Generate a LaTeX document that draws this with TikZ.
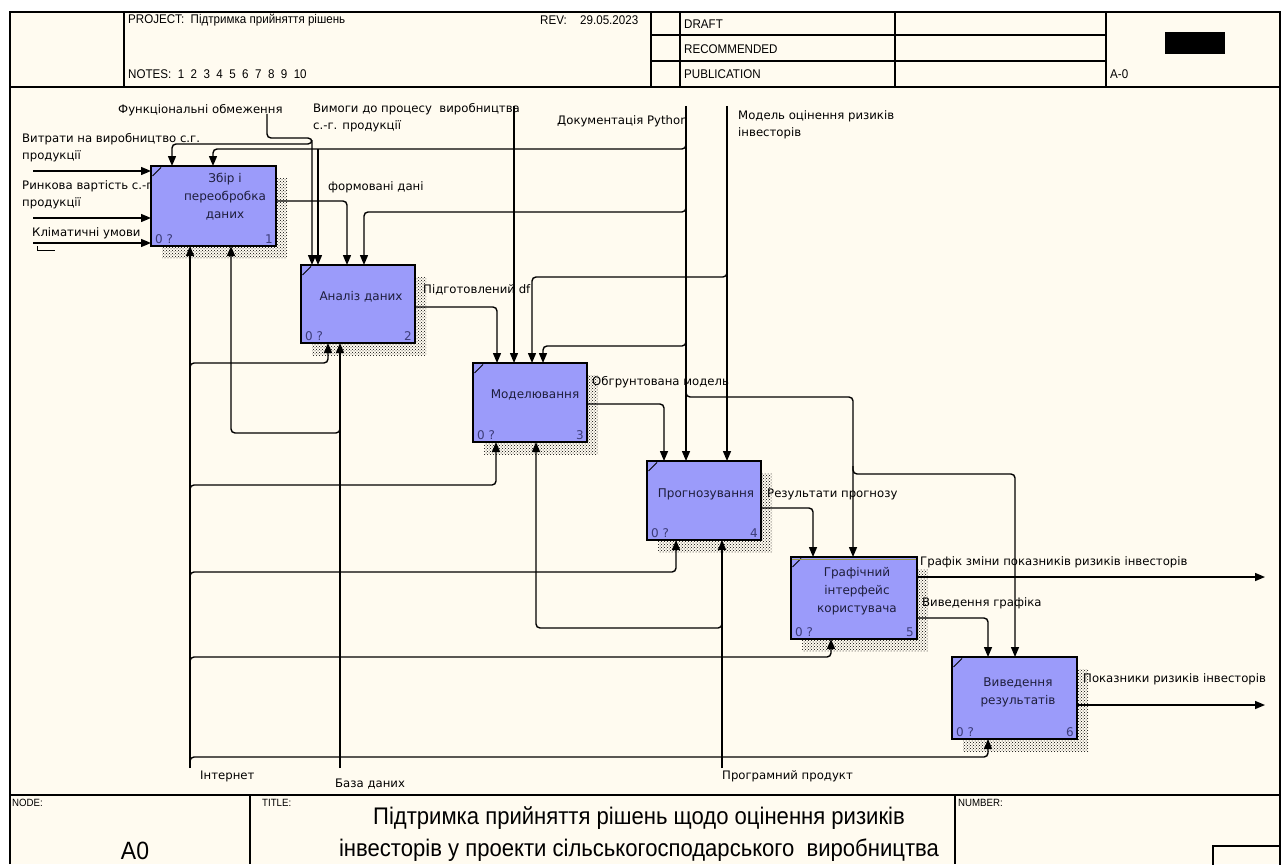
\documentclass[tikz,border=0pt]{standalone}
\usepackage{fontspec}
\setmainfont{DejaVu Sans}
\newfontfamily\hdrfont[FakeStretch=0.92]{Liberation Sans}
\newfontfamily\lblfont{DejaVu Sans}
\usetikzlibrary{arrows.meta,patterns,calc}
\definecolor{paper}{RGB}{255,251,240}
\definecolor{boxfill}{RGB}{155,155,250}
\definecolor{cornertxt}{RGB}{60,60,120}
\definecolor{boxtxt}{RGB}{30,30,60}
\definecolor{olivel}{RGB}{150,150,70}
\newcommand\idefbox[7]{%
  \path[pattern=crosshatch dots, pattern color=black] (#2+11,#3+12) rectangle (#4+11,#5+12);
  \node[fbox, minimum width=#4-#2, minimum height=#5-#3] (#1) at ({(#2+#4)/2},{(#3+#5)/2}) {};
  \draw[line width=0.9pt] ($(#1.north west)+(1.5,10)$) -- ($(#1.north west)+(10,1.5)$);
  \node[corner, anchor=south west] (#1z) at ($(#1.south west)+(4,-2)$) {0 ?};
  \node[corner, anchor=south east] (#1n) at ($(#1.south east)+(-3,-2)$) {#7};
  \node[btxt] (#1t) at #6;
}
\begin{document}
\begin{tikzpicture}[x=1pt,y=-1pt,
  conn/.style={line width=1.4pt, rounded corners=4pt},
  arr/.style={conn, -{Triangle[width=8pt,length=10pt]}},
  fbox/.style={draw=black, line width=1.6pt, fill=boxfill, rectangle, inner sep=0pt, outer sep=0pt},
  lbl/.style={font=\lblfont\fontsize{11.7}{17.5}\selectfont, inner sep=0pt, anchor=west, align=left},
  btxt/.style={font=\lblfont\fontsize{12}{18}\selectfont, inner sep=0pt, align=center, text=boxtxt},
  corner/.style={font=\lblfont\fontsize{12}{13}\selectfont, inner sep=0pt, text=cornertxt},
  hdr/.style={font=\hdrfont\fontsize{12.6}{14}\selectfont, inner sep=0pt, anchor=west},
  small/.style={font=\hdrfont\fontsize{10.5}{12}\selectfont, inner sep=0pt, anchor=west},
  frame/.style={line width=1.5pt}
]
\useasboundingbox (0,0) rectangle (1281,864);
\fill[white] (0,0) rectangle (1281,864);
\fill[paper] (10,12) rectangle (1280,864);
% ---------- header ----------
\draw[frame] (10,864) -- (10,12) -- (1280,12) -- (1280,864);
\draw[frame] (10,87) -- (1280,87);
\draw[frame] (124,12) -- (124,87);
\draw[frame] (651,12) -- (651,87);
\draw[frame] (680,12) -- (680,87);
\draw[frame] (895,12) -- (895,87);
\draw[frame] (1106,12) -- (1106,87);
\draw[frame] (651,35) -- (1106,35);
\draw[frame] (651,61) -- (1106,61);
\fill[black] (1165,32) rectangle (1225,54);
\node[hdr] (hProj) at (128,20) {PROJECT:\ \ Підтримка прийняття рішень};
\node[hdr] (hRev) at (540,20) {REV:};
\node[hdr] (hDate) at (580,20) {29.05.2023};
\node[hdr] (hNotes) at (128,74) {NOTES:\ \ 1\ \ 2\ \ 3\ \ 4\ \ 5\ \ 6\ \ 7\ \ 8\ \ 9\ \ 10};
\node[hdr] (hDraft) at (684,24) {DRAFT};
\node[hdr] (hRec) at (684,49) {RECOMMENDED};
\node[hdr] (hPub) at (684,74) {PUBLICATION};
\node[hdr] (hA) at (1110,74) {A-0};
% ---------- footer ----------
\draw[frame] (10,795) -- (1280,795);
\draw[frame] (250,795) -- (250,864);
\draw[frame] (955,795) -- (955,864);
\draw[frame] (1213,846) rectangle (1280,866);
\node[small] (fNode) at (12,803) {NODE:};
\node[small] (fTitle) at (262,803) {TITLE:};
\node[small] (fNum) at (958,803) {NUMBER:};
\node[font=\hdrfont\fontsize{25}{26}\selectfont, inner sep=0pt] (fA0) at (135,851) {A0};
\node[font=\hdrfont\fontsize{24}{32}\selectfont, inner sep=0pt, align=center] (fT) at (639,834)
  {Підтримка прийняття рішень щодо оцінення ризиків\\інвесторів у проекти сільськогосподарського\ \ виробництва};
% ---------- input label partly hidden by box 1 ----------
\node[lbl, anchor=north west] (lB) at (22,180) {Ринкова вартість с.-г.\\продукції};
% ---------- boxes ----------
\idefbox{b1}{151}{166}{276}{246}{(225,197) {Збір і\\переобробка\\даних}}{1}
\idefbox{b2}{301}{265}{415}{343}{(361,297) {Аналіз даних}}{2}
\idefbox{b3}{473}{363}{587}{442}{(535,395) {Моделювання}}{3}
\idefbox{b4}{647}{461}{761}{540}{(706,494) {Прогнозування}}{4}
\idefbox{b5}{791}{557}{917}{639}{(857,591) {Графічний\\інтерфейс\\користувача}}{5}
\idefbox{b6}{952}{657}{1077}{739}{(1018,692) {Виведення\\результатів}}{6}
\draw[olivel, line width=1pt] (792,559.5) -- (916,559.5);
% ---------- labels ----------
\node[lbl] (lF) at (118,110) {Функціональні обмеження};
\node[lbl, anchor=north west] (lV) at (313,103) {Вимоги до процесу\ \ виробництва\\с.-г. продукції};
\node[lbl] (lD) at (557,121) {Документація Python};
\node[lbl, anchor=north west] (lM) at (738,110) {Модель оцінення ризиків\\інвесторів};
\node[lbl, anchor=north west] (lA) at (22,133) {Витрати на виробництво с.г.\\продукції};
\node[lbl] (lC) at (32,233) {Кліматичні умови};
\node[lbl] (lFd) at (328,187) {формовані дані};
\node[lbl] (lPdf) at (423,290) {Підготовлений df};
\node[lbl] (lObg) at (592,382) {Обгрунтована модель};
\node[lbl] (lRes) at (767,494) {Результати прогнозу};
\node[lbl] (lGr) at (920,562) {Графік зміни показників ризиків інвесторів};
\node[lbl] (lVyv) at (922,603) {Виведення графіка};
\node[lbl] (lPok) at (1083,679) {Показники ризиків інвесторів};
\node[lbl] (lInt) at (200,776) {Інтернет};
\node[lbl] (lBD) at (335,784) {База даних};
\node[lbl] (lPP) at (722,776) {Програмний продукт};
% ---------- inputs ----------
\coordinate (iA) at (33,171);
\coordinate (iB) at (33,218);
\coordinate (iC) at (33,243);
\draw[arr] (iA) -- (iA -| b1.west);
\draw[arr] (iB) -- (iB -| b1.west);
\draw[arr] (iC) -- (iC -| b1.west);
\draw[line width=1pt] (37,246) -- (37,250) -- (55,250);
% ---------- controls ----------
\coordinate (cF) at (267,114);
\draw[arr] (cF) |- (312,138) -- (312,0 |- b2.north);
\draw[arr] (312,140) -- (312,144) -| (172,0 |- b1.north);
\coordinate (cV) at (514,106);
\draw[arr] (cV) -- (cV |- b3.north);
\coordinate (cD) at (686,106);
\draw[arr] (cD) -- (cD |- b4.north);
\draw[arr] (686,141) |- (213,149) -- (213,0 |- b1.north);
\draw[arr] (318,149) -- (318,0 |- b2.north);
\draw[arr] (686,204) |- (364,212) -- (364,0 |- b2.north);
\draw[arr] (686,338) |- (543,346) -- (543,0 |- b3.north);
\draw[arr] (686,389) |- (853,397) -- (853,0 |- b5.north);
\draw[arr] (853,466) |- (1015,474) -- (1015,0 |- b6.north);
\coordinate (cM) at (727,106);
\draw[arr] (cM) -- (cM |- b4.north);
\draw[arr] (727,269) |- (532,277) -- (532,0 |- b3.north);
% ---------- outputs ----------
\draw[arr] (b1.east |- 0,201) -| (347,0 |- b2.north);
\draw[arr] (b2.east |- 0,307) -| (497,0 |- b3.north);
\draw[arr] (b3.east |- 0,404) -| (664,0 |- b4.north);
\draw[arr] (b4.east |- 0,508) -| (813,0 |- b5.north);
\draw[arr] (b5.east |- 0,618) -| (988,0 |- b6.north);
\coordinate (oG) at (1265,577);
\coordinate (oP) at (1265,705);
\draw[arr] (b5.east |- oG) -- (oG);
\draw[arr] (b6.east |- oP) -- (oP);
% ---------- mechanisms ----------
\coordinate (mI) at (190,768);
\draw[arr] (mI) -- (mI |- b1.south);
\draw[arr] (190,371) |- (328,363) -- (328,0 |- b2.south);
\draw[arr] (190,493) |- (496,485) -- (496,0 |- b3.south);
\draw[arr] (190,580) |- (676,572) -- (676,0 |- b4.south);
\draw[arr] (190,665) |- (831,657) -- (831,0 |- b5.south);
\draw[arr] (190,765) |- (988,757) -- (988,0 |- b6.south);
\coordinate (mB) at (340,768);
\draw[arr] (mB) -- (mB |- b2.south);
\draw[arr] (340,425) |- (231,433) -- (231,0 |- b1.south);
\coordinate (mP) at (722,768);
\draw[arr] (mP) -- (mP |- b4.south);
\draw[arr] (722,620) |- (536,628) -- (536,0 |- b3.south);
\end{tikzpicture}
\end{document}
